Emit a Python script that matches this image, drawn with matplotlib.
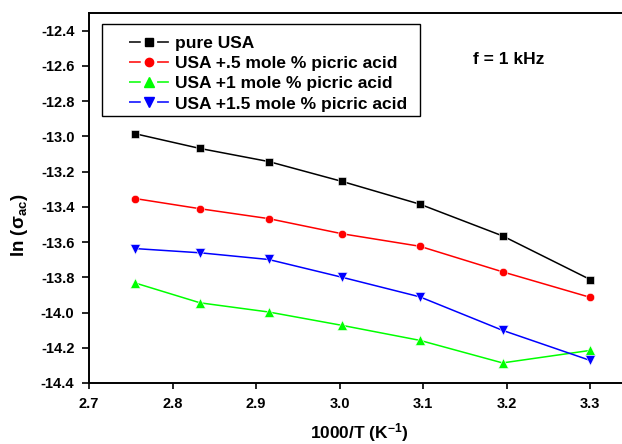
import numpy as np
import matplotlib.pyplot as plt
from matplotlib.lines import Line2D
from matplotlib.patches import Rectangle

plt.rcParams['font.family'] = ['Liberation Sans', 'DejaVu Sans']
plt.rcParams['font.weight'] = 'bold'
plt.rcParams['mathtext.default'] = 'regular'

# 1000/T values
inv_T = [2.755, 2.833, 2.915, 3.003, 3.096, 3.195, 3.300]

pure_usa = [-12.985, -13.069, -13.143, -13.256, -13.385, -13.565, -13.813]
usa_05 = [-13.353, -13.411, -13.467, -13.553, -13.624, -13.769, -13.914]
usa_10 = [-13.832, -13.945, -13.997, -14.073, -14.158, -14.286, -14.215]
usa_15 = [-13.637, -13.661, -13.699, -13.800, -13.911, -14.101, -14.272]

labels = ['pure USA', 'USA +.5 mole % picric acid',
          'USA +1 mole % picric acid', 'USA +1.5 mole % picric acid']
colors = ['black', 'red', '#00ff00', 'blue']
markers = ['s', 'o', '^', 'v']
msizes = [5.5, 6, 6.5, 6.5]

fig = plt.figure(figsize=(6.22, 4.44), dpi=100)
ax = fig.add_axes([0.1431, 0.1374, 0.8569, 0.8333])

series = [pure_usa, usa_05, usa_10, usa_15]
for ys, c, m, ms in zip(series, colors, markers, msizes):
    ax.plot(inv_T, ys, '-', marker=m, color=c, lw=1.1, ms=ms,
            mec='white', mew=0.4)

ax.set_xlim(2.7, 3.338)
ax.set_ylim(-14.4, -12.3)
ax.set_xticks(np.arange(2.7, 3.31, 0.1))
ax.set_yticks(np.arange(-14.4, -12.39, 0.2))
ax.xaxis.set_major_formatter(plt.FormatStrFormatter('%.1f'))
ax.yaxis.set_major_formatter(plt.FormatStrFormatter('%.1f'))

ax.spines['right'].set_visible(False)
for s in ['left', 'bottom', 'top']:
    ax.spines[s].set_linewidth(1.4)
ax.tick_params(direction='out', length=5, width=1.2, labelsize=10.5)
ax.tick_params(axis='x', pad=5.5, length=4.5)
ax.tick_params(axis='y', pad=5.5)
ax.tick_params(top=False, right=False)

ax.set_xlabel('1000/T (K$^{-1}$)', fontsize=12.5, fontweight='bold')
ax.xaxis.set_label_coords(0.508, -0.103)
ax.set_ylabel(r'ln ($\sigma_{ac}$)', fontsize=13.5, fontweight='bold')
ax.yaxis.set_label_coords(-0.11, 0.425)

ax.text(3.16, -12.563, 'f = 1 kHz', fontsize=12.5, fontweight='bold', va='center')

# legend frame drawn separately
ax.add_patch(Rectangle((0.0238, 0.722), 0.597, 0.248, transform=ax.transAxes,
                       facecolor='white', edgecolor='black', lw=1.0,
                       zorder=3, clip_on=False))

handles = [Line2D([], [], color=c, lw=1.1, ls=(0, (7.7, 10.7)), marker=m,
                  ms=ms, mec=c) for c, m, ms in zip(colors, markers, msizes)]
leg = ax.legend(handles, labels, loc='upper left', bbox_to_anchor=(0.075, 0.937),
                fontsize=12.5, frameon=False, numpoints=1,
                handlelength=2.3, handletextpad=0.35, labelspacing=0.28,
                borderpad=0, borderaxespad=0)
leg.set_zorder(4)

fig.savefig('out.png', dpi=100)
